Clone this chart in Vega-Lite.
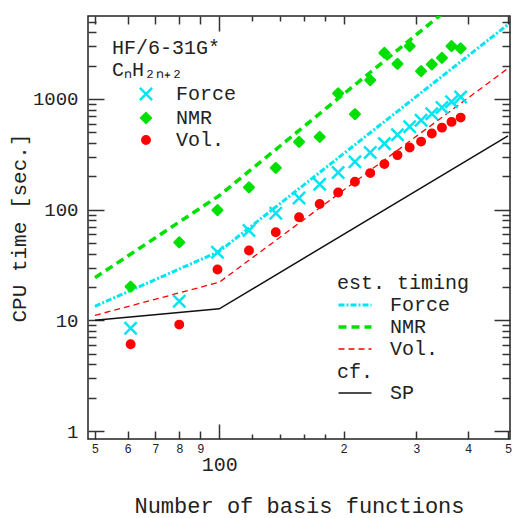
{
  "$schema": "https://vega.github.io/schema/vega-lite/v6.json",
  "width": 422,
  "height": 423,
  "autosize": {"type": "none"},
  "padding": {"left": 88, "top": 16, "right": 4, "bottom": 79},
  "background": "white",
  "config": {
    "font": "Liberation Mono",
    "view": {"stroke": "#222222", "strokeWidth": 1.5},
    "axis": {"domain": false, "grid": false, "labelColor": "#222222", "titleColor": "#222222", "tickColor": "#333333", "tickWidth": 1.5, "labelFont": "Liberation Mono", "titleFont": "Liberation Mono", "titleFontWeight": "normal"},
    "legend": {"titleFont": "Liberation Mono", "labelFont": "Liberation Mono", "titleFontWeight": "normal", "titleFontSize": 20, "labelFontSize": 20, "titleColor": "#222222", "labelColor": "#222222", "padding": 0, "titleLimit": 400, "labelLimit": 300}
  },
  "datasets": {
    "pts": [
      {"n": 61, "series": "Force", "t": 8.47}, {"n": 80, "series": "Force", "t": 14.9}, {"n": 99, "series": "Force", "t": 41.2},
      {"n": 118, "series": "Force", "t": 64.7}, {"n": 137, "series": "Force", "t": 92.6}, {"n": 156, "series": "Force", "t": 127.5},
      {"n": 175, "series": "Force", "t": 170}, {"n": 194, "series": "Force", "t": 217}, {"n": 213, "series": "Force", "t": 271},
      {"n": 232, "series": "Force", "t": 328}, {"n": 251, "series": "Force", "t": 395}, {"n": 270, "series": "Force", "t": 474},
      {"n": 289, "series": "Force", "t": 560}, {"n": 308, "series": "Force", "t": 643}, {"n": 327, "series": "Force", "t": 737},
      {"n": 346, "series": "Force", "t": 836}, {"n": 365, "series": "Force", "t": 946}, {"n": 384, "series": "Force", "t": 1042},
      {"n": 61, "series": "NMR", "t": 20.2}, {"n": 80, "series": "NMR", "t": 50.7}, {"n": 99, "series": "NMR", "t": 99},
      {"n": 118, "series": "NMR", "t": 159}, {"n": 137, "series": "NMR", "t": 238}, {"n": 156, "series": "NMR", "t": 410},
      {"n": 175, "series": "NMR", "t": 455}, {"n": 194, "series": "NMR", "t": 1125}, {"n": 213, "series": "NMR", "t": 728},
      {"n": 232, "series": "NMR", "t": 1483}, {"n": 251, "series": "NMR", "t": 2612}, {"n": 270, "series": "NMR", "t": 2080},
      {"n": 289, "series": "NMR", "t": 3000}, {"n": 308, "series": "NMR", "t": 1786}, {"n": 327, "series": "NMR", "t": 2055},
      {"n": 346, "series": "NMR", "t": 2355}, {"n": 365, "series": "NMR", "t": 3000}, {"n": 384, "series": "NMR", "t": 2862},
      {"n": 61, "series": "Vol.", "t": 6.08}, {"n": 80, "series": "Vol.", "t": 9.15}, {"n": 99, "series": "Vol.", "t": 28.8},
      {"n": 118, "series": "Vol.", "t": 42.7}, {"n": 137, "series": "Vol.", "t": 62.5}, {"n": 156, "series": "Vol.", "t": 85.3},
      {"n": 175, "series": "Vol.", "t": 112.5}, {"n": 194, "series": "Vol.", "t": 143}, {"n": 213, "series": "Vol.", "t": 179},
      {"n": 232, "series": "Vol.", "t": 214}, {"n": 251, "series": "Vol.", "t": 258}, {"n": 270, "series": "Vol.", "t": 311},
      {"n": 289, "series": "Vol.", "t": 364}, {"n": 308, "series": "Vol.", "t": 412}, {"n": 327, "series": "Vol.", "t": 487},
      {"n": 346, "series": "Vol.", "t": 551}, {"n": 365, "series": "Vol.", "t": 621}, {"n": 384, "series": "Vol.", "t": 679}
    ],
    "est": [
      {"n": 50, "est": "Force", "t": 13.4}, {"n": 100, "est": "Force", "t": 42}, {"n": 500, "est": "Force", "t": 4710},
      {"n": 50, "est": "NMR", "t": 24.3}, {"n": 100, "est": "NMR", "t": 134}, {"n": 500, "est": "NMR", "t": 18060},
      {"n": 50, "est": "Vol.", "t": 11.1}, {"n": 100, "est": "Vol.", "t": 22.1}, {"n": 500, "est": "Vol.", "t": 1890}
    ],
    "sp": [
      {"n": 50, "ref": "SP", "t": 10.0}, {"n": 100, "ref": "SP", "t": 12.7}, {"n": 500, "ref": "SP", "t": 464}
    ]
  },
  "resolve": {
    "axis": {"x": "independent", "y": "independent"},
    "scale": {"color": "independent", "fill": "independent", "stroke": "independent", "strokeDash": "independent", "strokeWidth": "independent", "shape": "independent", "size": "independent", "opacity": "independent"},
    "legend": {"color": "independent", "fill": "independent", "stroke": "independent", "strokeDash": "independent", "strokeWidth": "independent", "shape": "independent", "size": "independent", "opacity": "independent"}
  },
  "layer": [
    {
      "data": {"name": "est"},
      "mark": {"type": "line", "clip": true},
      "encoding": {
        "x": {"field": "n", "type": "quantitative", "scale": {"type": "log", "domain": [48.1, 505.6], "nice": false},
          "axis": {"orient": "bottom", "title": null, "labels": false, "domain": false, "values": [50, 60, 70, 80, 90, 100, 120, 140, 160, 180, 200, 300, 400, 500],
            "tickSize": {"condition": [{"test": "datum.value == 100", "value": -15}, {"test": "datum.value > 100 && datum.value < 200", "value": -5}], "value": -8}}},
        "y": {"field": "t", "type": "quantitative", "scale": {"type": "log", "domain": [0.847, 5620], "nice": false},
          "axis": {"orient": "left", "title": null, "labels": false, "domain": false,
            "values": [1, 2, 3, 4, 5, 6, 7, 8, 9, 10, 20, 30, 40, 50, 60, 70, 80, 90, 100, 200, 300, 400, 500, 600, 700, 800, 900, 1000, 2000, 3000, 4000, 5000],
            "tickSize": {"condition": {"test": "datum.value == 1 || datum.value == 10 || datum.value == 100 || datum.value == 1000", "value": -16}, "value": -8}}},
        "color": {"field": "est", "type": "nominal", "scale": {"domain": ["Force", "NMR", "Vol."], "range": ["#00e5f0", "#00e000", "#ff0000"]},
          "legend": {"title": "est. timing", "orient": "none", "legendX": 249, "legendY": 257, "symbolType": "M-2,0L2,0", "symbolSize": 272, "symbolOffset": 8, "labelOffset": 25, "rowPadding": 2, "titlePadding": 2}},
        "strokeDash": {"field": "est", "type": "nominal", "scale": {"domain": ["Force", "NMR", "Vol."], "range": [[6, 2, 2, 2], [8, 5], [6, 4]]},
          "legend": {"title": "est. timing", "orient": "none", "legendX": 249, "legendY": 257, "symbolType": "M-2,0L2,0", "symbolSize": 272, "symbolOffset": 8, "labelOffset": 25, "rowPadding": 2, "titlePadding": 2}},
        "strokeWidth": {"field": "est", "type": "nominal", "scale": {"type": "ordinal", "domain": ["Force", "NMR", "Vol."], "range": [3, 3.5, 1.3]},
          "legend": {"title": "est. timing", "orient": "none", "legendX": 249, "legendY": 257, "symbolType": "M-2,0L2,0", "symbolSize": 272, "symbolOffset": 8, "labelOffset": 25, "rowPadding": 2, "titlePadding": 2}}
      }
    },
    {
      "data": {"name": "sp"},
      "mark": {"type": "line", "color": "#111111", "strokeWidth": 1.5, "clip": true},
      "encoding": {
        "x": {"field": "n", "type": "quantitative", "scale": {"type": "log", "domain": [48.1, 505.6], "nice": false},
          "axis": {"orient": "top", "title": null, "labels": false, "domain": false, "values": [50, 60, 70, 80, 90, 100, 120, 140, 160, 180, 200, 300, 400, 500],
            "tickSize": {"condition": [{"test": "datum.value == 100", "value": -15}, {"test": "datum.value > 100 && datum.value < 200", "value": -5}], "value": -8}}},
        "y": {"field": "t", "type": "quantitative", "scale": {"type": "log", "domain": [0.847, 5620], "nice": false},
          "axis": {"orient": "right", "title": null, "labels": false, "domain": false,
            "values": [1, 2, 3, 4, 5, 6, 7, 8, 9, 10, 20, 30, 40, 50, 60, 70, 80, 90, 100, 200, 300, 400, 500, 600, 700, 800, 900, 1000, 2000, 3000, 4000, 5000],
            "tickSize": {"condition": {"test": "datum.value == 1 || datum.value == 10 || datum.value == 100 || datum.value == 1000", "value": -16}, "value": -8}}},
        "opacity": {"field": "ref", "type": "nominal", "scale": {"domain": ["SP"], "range": [1]},
          "legend": {"title": "cf.", "orient": "none", "legendX": 249, "legendY": 346, "symbolType": "M-2,0L2,0", "symbolSize": 272, "symbolOffset": 8, "symbolStrokeColor": "#111111", "symbolStrokeWidth": 1.5, "labelOffset": 25, "titlePadding": 1}}
      }
    },
    {
      "data": {"name": "pts"},
      "mark": {"type": "point", "strokeWidth": 2.5, "opacity": 1, "strokeJoin": "round"},
      "encoding": {
        "x": {"field": "n", "type": "quantitative", "scale": {"type": "log", "domain": [48.1, 505.6], "nice": false},
          "axis": {"orient": "bottom", "ticks": false, "domain": false, "values": [50, 60, 70, 80, 90, 100, 200, 300, 400, 500],
            "labelExpr": "datum.value == 100 ? '100' : datum.value < 100 ? '' + (datum.value / 10) : '' + (datum.value / 100)",
            "labelFontSize": {"condition": {"test": "datum.value == 100", "value": 20}, "value": 12},
            "labelPadding": {"condition": {"test": "datum.value == 100", "value": 15}, "value": 4},
            "labelFlush": false, "labelOverlap": false, "labelBound": false,
            "title": "Number of basis functions", "titleFontSize": 22, "titlePadding": 21}},
        "y": {"field": "t", "type": "quantitative", "scale": {"type": "log", "domain": [0.847, 5620], "nice": false},
          "axis": {"orient": "left", "ticks": false, "domain": false, "values": [1, 10, 100, 1000], "format": "d",
            "labelFontSize": 19, "labelPadding": 10, "labelFlush": false, "labelOverlap": false,
            "title": "CPU time [sec.]", "titleFontSize": 21, "titlePadding": 3}},
        "shape": {"field": "series", "type": "nominal", "scale": {"domain": ["Force", "NMR", "Vol."], "range": ["M-1,-1L1,1M-1,1L1,-1", "diamond", "circle"]},
          "legend": {"title": ["HF/6-31G*", "CₙH₂ₙ₊₂"], "orient": "none", "legendX": 24, "legendY": 22, "symbolOffset": 24, "labelOffset": 20, "rowPadding": 2, "titlePadding": 4, "titleLineHeight": 22, "symbolStrokeWidth": 2.5}},
        "fill": {"field": "series", "type": "nominal", "scale": {"domain": ["Force", "NMR", "Vol."], "range": ["transparent", "#00e000", "#ff0000"]},
          "legend": {"title": ["HF/6-31G*", "CₙH₂ₙ₊₂"], "orient": "none", "legendX": 24, "legendY": 22, "symbolOffset": 24, "labelOffset": 20, "rowPadding": 2, "titlePadding": 4, "titleLineHeight": 22, "symbolStrokeWidth": 2.5}},
        "stroke": {"field": "series", "type": "nominal", "scale": {"domain": ["Force", "NMR", "Vol."], "range": ["#00e5f0", "#00e000", "#ff0000"]},
          "legend": {"title": ["HF/6-31G*", "CₙH₂ₙ₊₂"], "orient": "none", "legendX": 24, "legendY": 22, "symbolOffset": 24, "labelOffset": 20, "rowPadding": 2, "titlePadding": 4, "titleLineHeight": 22, "symbolStrokeWidth": 2.5}},
        "size": {"field": "series", "type": "nominal", "scale": {"type": "ordinal", "domain": ["Force", "NMR", "Vol."], "range": [150, 90, 55]},
          "legend": {"title": ["HF/6-31G*", "CₙH₂ₙ₊₂"], "orient": "none", "legendX": 24, "legendY": 22, "symbolOffset": 24, "labelOffset": 20, "rowPadding": 2, "titlePadding": 4, "titleLineHeight": 22, "symbolStrokeWidth": 2.5}}
      }
    }
  ]
}
